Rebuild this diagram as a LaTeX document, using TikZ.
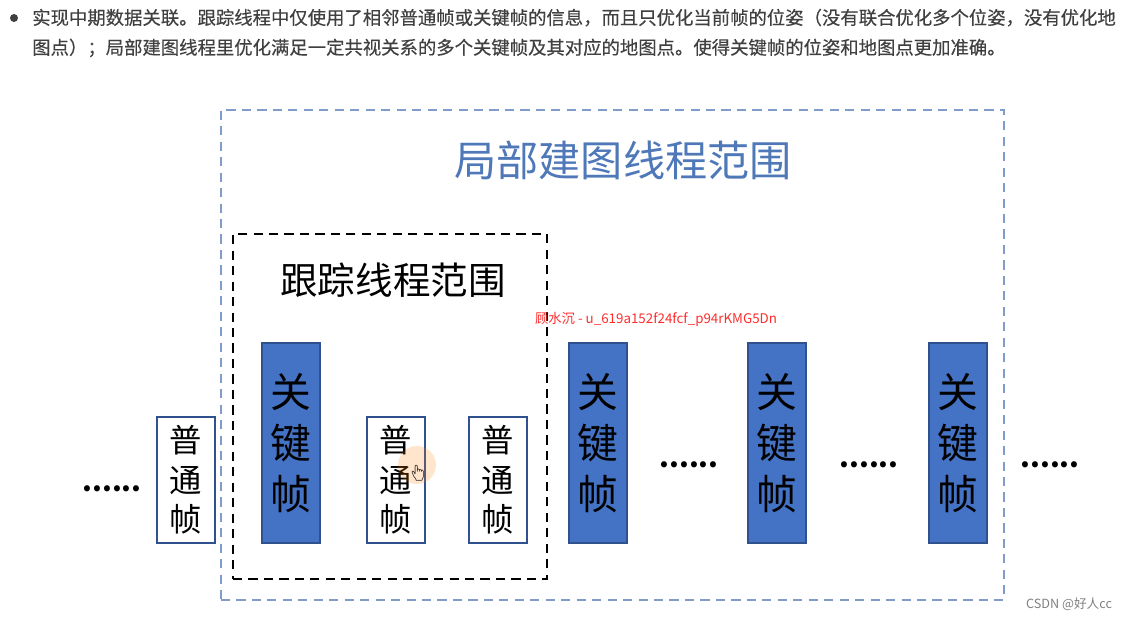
\documentclass[tikz,border=0pt]{standalone}
\usepackage{fontspec}
\setmainfont{Noto Sans CJK SC}
\newfontfamily\notefont[FakeBold=0.4]{Noto Sans CJK SC}
\newfontfamily\emojifont{Noto Emoji}
\usepackage{tikz}
\usetikzlibrary{positioning,calc}
\definecolor{FrameBlue}{HTML}{4472C4}
\definecolor{FrameEdge}{HTML}{2F528F}
\definecolor{ScopeBlue}{HTML}{7F9CCB}
\definecolor{TitleBlue}{HTML}{4F78B8}
\definecolor{NoteGray}{HTML}{404040}
\definecolor{MarkRed}{HTML}{FF2D2D}
\tikzset{
  keyframe/.style={rectangle,draw=FrameEdge,line width=1.2pt,fill=FrameBlue,outer sep=0pt,minimum width=1.45cm,minimum height=5cm,inner sep=0pt,align=center,text=black,font=\fontsize{29}{36.5}\selectfont},
  normalframe/.style={rectangle,draw=FrameEdge,line width=1.2pt,fill=white,outer sep=0pt,minimum width=1.45cm,minimum height=3.15cm,inner sep=0pt,align=center,text=black,font=\fontsize{23}{28}\selectfont},
  dotsnode/.style={inner sep=0pt,font=\fontsize{20}{20}\selectfont\bfseries},
  scopebox/.style={rectangle,inner sep=0pt,outer sep=0pt,line width=1.7pt,dash pattern=on 6.5pt off 4.5pt},
}
\begin{document}
\begin{tikzpicture}[x=0.025cm,y=-0.025cm]
  \useasboundingbox (0,0) rectangle (1131,621);
  % ── Note on top ──
  \node[anchor=west,inner sep=0pt,text=NoteGray,font=\notefont\fontsize{13.06}{21.2}\selectfont,align=left] (note) at (32,33)
    {实现中期数据关联。跟踪线程中仅使用了相邻普通帧或关键帧的信息^^^^ff0c而且只优化当前帧的位姿^^^^ff08没有联合优化多个位姿^^^^ff0c没有优化地\\
     图点^^^^ff09^^^^ff1b局部建图线程里优化满足一定共视关系的多个关键帧及其对应的地图点。使得关键帧的位姿和地图点更加准确。};
  \node[circle,fill=NoteGray,inner sep=0pt,minimum size=0.2cm] (bullet) at (14,18) {};

  % ── Scopes ──
  \node[scopebox,draw=ScopeBlue,minimum width=19.575cm,minimum height=12.25cm] (localscope) at (612.5,355) {};
  \node[scopebox,draw=black,minimum width=7.85cm,minimum height=8.625cm] (trackscope) at (390,406.5) {};
  \node[text=TitleBlue,inner sep=0pt,font=\fontsize{30}{32}\selectfont] (localtitle) at (623,160) {局部建图线程范围};
  \node[text=black,inner sep=0pt,font=\fontsize{26.7}{30}\selectfont] (tracktitle) at (393,280) {跟踪线程范围};

  % ── Frames ──
  \node[normalframe] (nf1) at (186,480) {普\\通\\帧};
  \node[keyframe,right=1.175cm of nf1.south east,anchor=south west] (kf1) {关\\键\\帧};
  \node[normalframe,right=1.175cm of kf1.south east,anchor=south west] (nf2) {普\\通\\帧};
  \node[normalframe,right=1.1cm of nf2] (nf3) {普\\通\\帧};
  \node[keyframe,right=1.05cm of nf3.south east,anchor=south west] (kf2) {关\\键\\帧};
  \node[keyframe,right=3.025cm of kf2] (kf3) {关\\键\\帧};
  \node[keyframe,right=3.075cm of kf3] (kf4) {关\\键\\帧};

  % ── Dots ──
  \node[dotsnode] (dots1) at (112,489) {......};
  \node[dotsnode] (dots2) at (689,465) {......};
  \node[dotsnode] (dots3) at (869,465) {......};
  \node[dotsnode] (dots4) at (1050,465) {......};

  % ── Cursor ──
  \node[circle,minimum size=0.95cm,inner sep=0pt,fill=orange,opacity=0.2] (spot) at (417,465) {};
  \node[inner sep=0pt,font=\emojifont\fontsize{11}{11}\selectfont] (cursor) at (418,473) {👆};

  % ── Marks ──
  \node[text=MarkRed,inner sep=0pt,font=\fontsize{9.5}{12}\selectfont] (mark) at (656,319) {顾水沉 - u\_619a152f24fcf\_p94rKMG5Dn};
  \node[text=black!50,inner sep=0pt,font=\fontsize{9}{11}\selectfont] (csdn) at (1069,604) {CSDN @好人cc};
\end{tikzpicture}
\end{document}
